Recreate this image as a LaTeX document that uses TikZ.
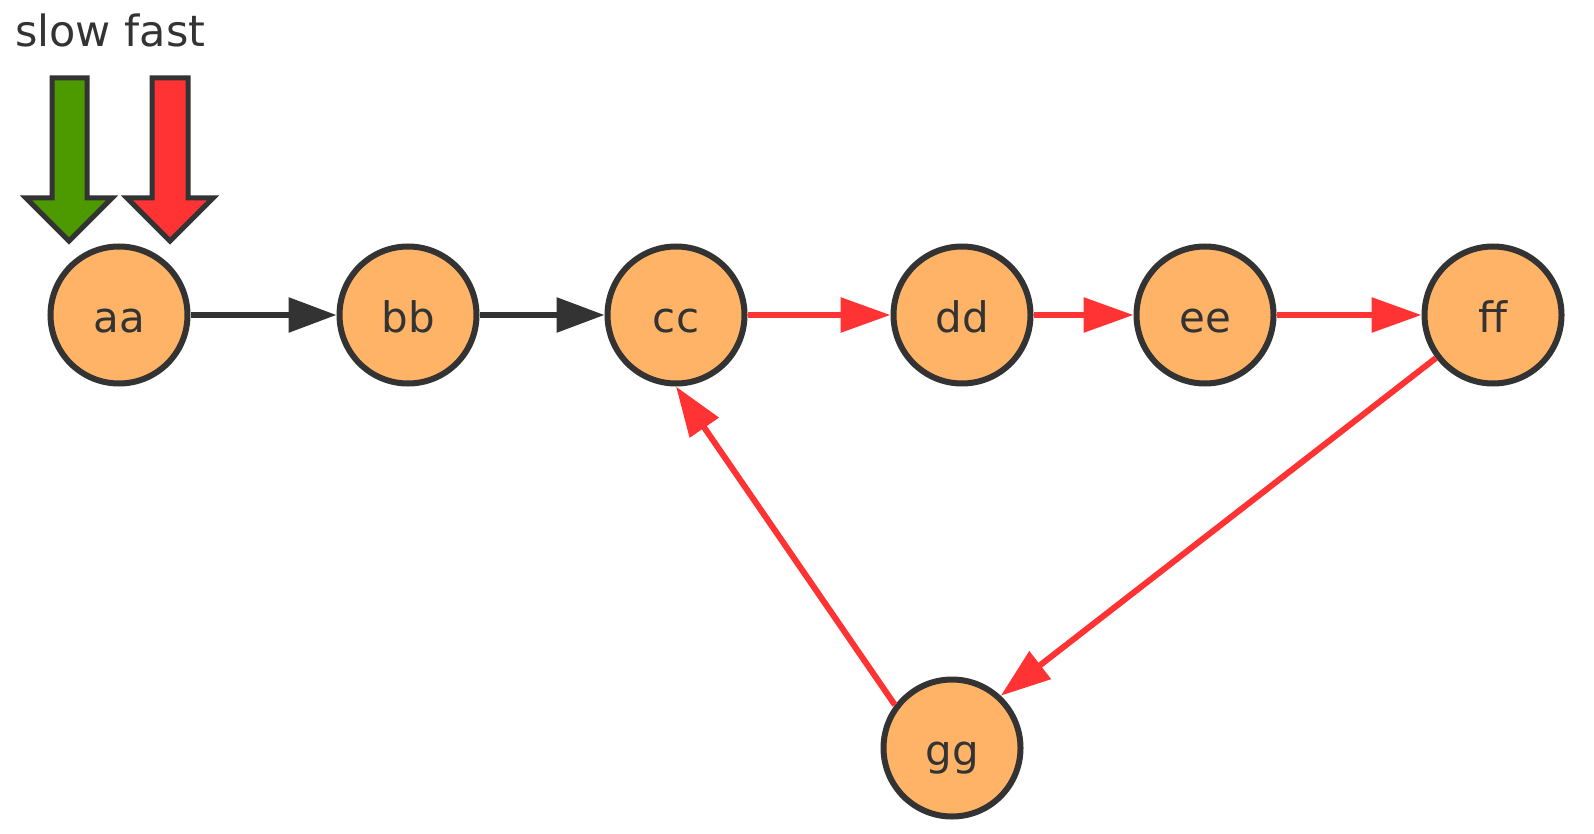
\documentclass[tikz,border=0pt]{standalone}
\usepackage{fontspec}
\setmainfont{DejaVu Sans}
\usetikzlibrary{arrows.meta}
\definecolor{nodefill}{HTML}{FFB366}
\definecolor{dark}{HTML}{333333}
\definecolor{redc}{HTML}{FF3333}
\definecolor{greenc}{HTML}{4D9900}
\begin{document}
\begin{tikzpicture}[x=1pt,y=-1pt,
  vert/.style={circle, draw=dark, fill=nodefill, line width=6pt, minimum size=137pt, inner sep=0pt,
    font=\fontsize{42}{50}\selectfont, text=dark, text height=34pt, text depth=0pt},
  blackedge/.style={draw=dark, line width=6pt, -{Triangle[length=48pt,width=34pt]}},
  rededge/.style={draw=redc, line width=6pt, -{Triangle[length=50pt,width=34pt]}},
  blockarrow/.style={draw=dark, line width=5pt, line join=miter},
  lbl/.style={font=\fontsize{43}{50}\selectfont, text=dark, inner sep=0pt, anchor=base west}]
\useasboundingbox (0,0) rectangle (1594,834);
% nodes
\node[vert] (aa) at (119,315) {aa};
\node[vert] (bb) at (408,315) {bb};
\node[vert] (cc) at (676,315) {cc};
\node[vert] (dd) at (962,315) {dd};
\node[vert] (ee) at (1205,315) {ee};
\node[vert] (ff) at (1493,315) {ff};
\node[vert] (gg) at (952,748) {gg};
% edges
\draw[blackedge] (aa) -- (bb);
\draw[blackedge] (bb) -- (cc);
\draw[rededge] (cc) -- (dd);
\draw[rededge] (dd) -- (ee);
\draw[rededge] (ee) -- (ff);
\draw[rededge] (ff.217) -- (gg.47);
\draw[rededge] (gg.143) -- (cc.270);
% legend
\node[lbl] (legend) at (15,47) {slow fast};
\draw[blockarrow, fill=greenc] (52,78) -- (87,78) -- (87,198) -- (112,198) -- (69,241) -- (26,198) -- (52,198) -- cycle;
\draw[blockarrow, fill=redc] (152,78) -- (188,78) -- (188,198) -- (213,198) -- (170,241) -- (127,198) -- (152,198) -- cycle;
\end{tikzpicture}
\end{document}
